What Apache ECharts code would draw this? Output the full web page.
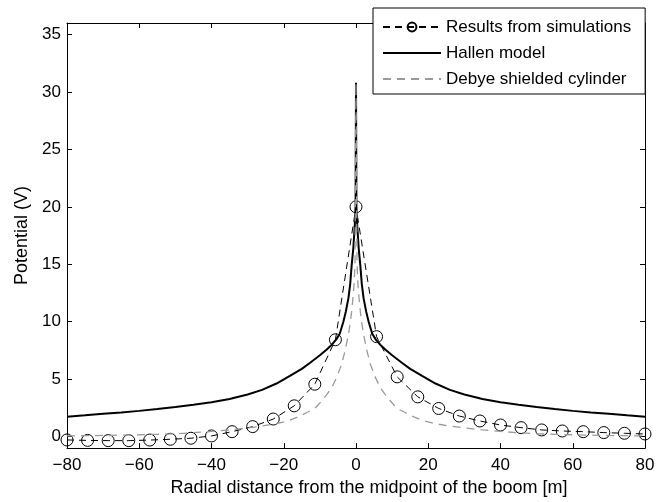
<!DOCTYPE html>
<html>
<head>
<meta charset="utf-8">
<script src="https://cdn.jsdelivr.net/npm/echarts@6/dist/echarts.min.js"></script>
<style>
html,body{margin:0;padding:0;background:#fff;}
#chart{width:663px;height:502px;}
</style>
</head>
<body>
<div id="chart"></div>
<script>
// ---- data ----
const xTicks = [-80, -60, -40, -20, 0, 20, 40, 60, 80];
const yTicks = [0, 5, 10, 15, 20, 25, 30, 35];

const simX = [-80, -74.3, -68.6, -62.9, -57.1, -51.4, -45.7, -40, -34.3, -28.6, -22.9, -17.1, -11.4, -5.7, 0,
              5.7, 11.4, 17.1, 22.9, 28.6, 34.3, 40, 45.7, 51.4, 57.1, 62.9, 68.6, 74.3, 80];
const simY = [-0.29, -0.33, -0.35, -0.35, -0.30, -0.23, -0.14, 0.06, 0.43, 0.87, 1.53, 2.68, 4.56, 8.43, 20.0,
              8.7, 5.2, 3.46, 2.45, 1.79, 1.36, 1.01, 0.78, 0.58, 0.49, 0.43, 0.35, 0.29, 0.23];

const hallenX = [-80, -75, -70, -65, -60, -55, -50, -45, -40, -35, -30, -26, -22, -18.3, -15, -12.7, -10, -8.1, -6.7, -5.5, -4.5, -3.5, -2.8, -2.1, -1.6, -1.2, -0.74, -0.35, -0.12, 0,
                 0.12, 0.35, 0.74, 1.2, 1.6, 2.1, 2.8, 3.5, 4.5, 5.5, 6.7, 8.1, 10, 12.7, 15, 18.3, 22, 26, 30, 35, 40, 45, 50, 55, 60, 65, 70, 75, 80];
const hallenY = [1.73, 1.85, 1.98, 2.1, 2.24, 2.4, 2.58, 2.78, 3.0, 3.27, 3.67, 4.07, 4.62, 5.28, 5.9, 6.43, 7.08, 7.58, 8.0, 8.44, 8.95, 10.0, 10.9, 12.05, 13.3, 14.9, 16.4, 18.3, 20.0, 30.8,
                 20.0, 18.3, 16.4, 14.9, 13.3, 12.05, 10.9, 10.0, 8.95, 8.44, 8.0, 7.58, 7.08, 6.43, 5.9, 5.28, 4.62, 4.07, 3.67, 3.27, 3.0, 2.78, 2.58, 2.4, 2.24, 2.1, 1.98, 1.85, 1.73];

const debyeX = [-80, -75, -70, -65, -60, -55, -50, -45, -40, -35, -30, -26, -22, -19, -16, -13.6, -12, -10.9, -9, -8, -6.7, -5.3, -4, -3, -2.1, -1.6, -1.2, -0.8, -0.55, -0.28, 0,
                0.28, 0.55, 0.8, 1.2, 1.6, 2.1, 3, 4, 5.3, 6.7, 8, 9, 10.9, 12, 13.6, 16, 19, 22, 26, 30, 35, 40, 45, 50, 55, 60, 65, 70, 75, 80];
const debyeY = [0.06, 0.08, 0.1, 0.13, 0.16, 0.2, 0.25, 0.34, 0.45, 0.58, 0.75, 0.92, 1.12, 1.35, 1.72, 2.1, 2.35, 2.6, 3.3, 3.7, 4.27, 5.2, 6.28, 7.5, 8.88, 9.9, 10.9, 12.2, 13.2, 15.0, 30.8,
                15.0, 13.2, 12.2, 10.9, 9.9, 8.88, 7.5, 6.28, 5.2, 4.27, 3.7, 3.3, 2.6, 2.35, 2.1, 1.72, 1.35, 1.12, 0.92, 0.75, 0.58, 0.45, 0.34, 0.25, 0.2, 0.16, 0.13, 0.1, 0.08, 0.06];

const seriesNames = ['Results from simulations', 'Hallen model', 'Debye shielded cylinder'];
const xTitle = 'Radial distance from the midpoint of the boom [m]';
const yTitle = 'Potential (V)';

// ---- chart ----
const pairs = (xs, ys) => xs.map((x, i) => [x, ys[i]]);
const FONT = "'Liberation Sans', Arial, sans-serif";
const fmt = v => (v < 0 ? '\u2212' + Math.abs(v) : String(v));

const chart = echarts.init(document.getElementById('chart'), null, {renderer: 'canvas'});

const axisLineStyle = {show: true, onZero: false, lineStyle: {color: '#000', width: 1}};
const tickStyle = {show: true, inside: true, length: 5, lineStyle: {color: '#000', width: 1}};

chart.setOption({
  animation: false,
  backgroundColor: '#fff',
  grid: {left: 67, right: 18, top: 23, bottom: 51, containLabel: false},
  legend: {
    left: 373, top: 8,
    orient: 'vertical',
    backgroundColor: '#fff',
    borderColor: '#000', borderWidth: 1, borderRadius: 0,
    padding: [9, 14, 5, 9],
    itemWidth: 58, itemHeight: 11, itemGap: 6,
    textStyle: {fontFamily: FONT, fontSize: 17, color: '#000', lineHeight: 20},
    data: [
      {name: seriesNames[0]},
      {name: seriesNames[1], itemStyle: {opacity: 0}},
      {name: seriesNames[2], itemStyle: {opacity: 0}}
    ]
  },
  xAxis: [{
    type: 'value', min: -80, max: 80, interval: 20, position: 'bottom',
    axisLine: axisLineStyle, axisTick: tickStyle, splitLine: {show: false},
    axisLabel: {fontFamily: FONT, fontSize: 17, color: '#000', margin: 9, formatter: fmt},
    name: xTitle, nameLocation: 'middle', nameGap: 30,
    nameTextStyle: {fontFamily: FONT, fontSize: 18, color: '#000', padding: [0, 0, 0, 26]}
  }, {
    type: 'value', min: -80, max: 80, interval: 20, position: 'top',
    axisLine: axisLineStyle, axisTick: tickStyle, splitLine: {show: false},
    axisLabel: {show: false}
  }],
  yAxis: [{
    type: 'value', min: -1, max: 36, position: 'left',
    axisLine: axisLineStyle,
    axisTick: Object.assign({}, tickStyle, {customValues: yTicks}),
    splitLine: {show: false},
    axisLabel: {fontFamily: FONT, fontSize: 17, color: '#000', margin: 6, customValues: yTicks, formatter: fmt},
    name: yTitle, nameLocation: 'middle', nameGap: 30,
    nameTextStyle: {fontFamily: FONT, fontSize: 18, color: '#000'}
  }, {
    type: 'value', min: -1, max: 36, position: 'right',
    axisLine: axisLineStyle,
    axisTick: Object.assign({}, tickStyle, {customValues: yTicks}),
    splitLine: {show: false},
    axisLabel: {show: false}
  }],
  series: [{
    name: seriesNames[0], type: 'line', xAxisIndex: 0, yAxisIndex: 0,
    data: pairs(simX, simY),
    symbol: 'circle', symbolSize: 12, showSymbol: true,
    itemStyle: {color: 'rgba(255,255,255,0)', borderColor: '#000', borderWidth: 1},
    lineStyle: {color: '#000', width: 1, type: [7, 5]},
    emphasis: {disabled: true}, z: 3
  }, {
    name: seriesNames[1], type: 'line', xAxisIndex: 0, yAxisIndex: 0,
    data: pairs(hallenX, hallenY),
    symbol: 'none', showSymbol: false,
    itemStyle: {color: '#000'},
    lineStyle: {color: '#000', width: 2, type: 'solid'},
    emphasis: {disabled: true}, z: 2
  }, {
    name: seriesNames[2], type: 'line', xAxisIndex: 0, yAxisIndex: 0,
    data: pairs(debyeX, debyeY),
    symbol: 'none', showSymbol: false,
    itemStyle: {color: '#9a9a9a'},
    lineStyle: {color: '#9a9a9a', width: 1.3, type: [8, 6]},
    emphasis: {disabled: true}, z: 4
  }]
});
</script>
</body>
</html>
